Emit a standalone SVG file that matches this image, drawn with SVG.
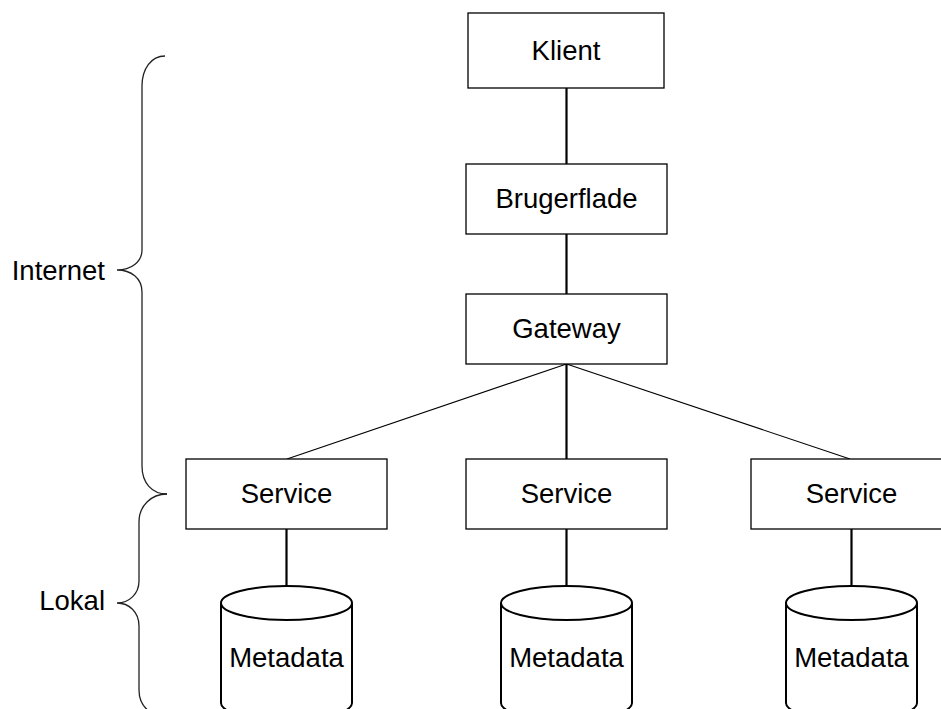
<svg xmlns="http://www.w3.org/2000/svg" width="941" height="709" viewBox="0 0 941 709">
  <style>
    .box { fill: #fff; stroke: #000; stroke-width: 1.3; }
    .db { fill: #fff; stroke: #000; stroke-width: 2; }
    .label { font-family: "Liberation Sans", Arial, sans-serif; font-size: 27.5px; fill: #000; text-anchor: middle; }
    .side { font-family: "Liberation Sans", Arial, sans-serif; font-size: 27.5px; fill: #000; text-anchor: end; }
    .thick { stroke: #000; stroke-width: 2.2; fill: none; }
    .thin { stroke: #000; stroke-width: 1.1; fill: none; }
    .brace { stroke: #222; stroke-width: 1.3; fill: none; }
  </style>
  <rect width="941" height="709" fill="#fff"/>

  <!-- connectors -->
  <g id="connectors">
    <line class="thick" x1="566.5" y1="88" x2="566.5" y2="164"/>
    <line class="thick" x1="566.5" y1="234" x2="566.5" y2="294"/>
    <line class="thick" x1="566.5" y1="364" x2="566.5" y2="459"/>
    <line class="thin" x1="566.5" y1="364" x2="287" y2="459"/>
    <line class="thin" x1="566.5" y1="364" x2="850" y2="459"/>
    <line class="thick" x1="286.5" y1="529" x2="286.5" y2="586"/>
    <line class="thick" x1="566.5" y1="529" x2="566.5" y2="586"/>
    <line class="thick" x1="851.5" y1="529" x2="851.5" y2="586"/>
  </g>

  <!-- nodes -->
  <g id="klient">
    <rect class="box" x="468" y="13" width="196" height="75"/>
    <text class="label" x="566" y="60">Klient</text>
  </g>
  <g id="brugerflade">
    <rect class="box" x="466" y="164" width="201" height="70"/>
    <text class="label" x="566.5" y="208">Brugerflade</text>
  </g>
  <g id="gateway">
    <rect class="box" x="466" y="294" width="201" height="70"/>
    <text class="label" x="566.5" y="338">Gateway</text>
  </g>
  <g id="service1">
    <rect class="box" x="186" y="459" width="201" height="70"/>
    <text class="label" x="286.5" y="503">Service</text>
  </g>
  <g id="service2">
    <rect class="box" x="466" y="459" width="201" height="70"/>
    <text class="label" x="566.5" y="503">Service</text>
  </g>
  <g id="service3">
    <rect class="box" x="751" y="459" width="201" height="70"/>
    <text class="label" x="851.5" y="503">Service</text>
  </g>

  <g id="metadata1">
    <path class="db" d="M221,603 L221,703 A65.5,17 0 0 0 352,703 L352,603 A65.5,17 0 0 0 221,603 Z"/>
    <path class="db" d="M221,603 A65.5,17 0 0 0 352,603"/>
    <text class="label" x="286.5" y="667">Metadata</text>
  </g>
  <g id="metadata2">
    <path class="db" d="M501,603 L501,703 A65.5,17 0 0 0 632,703 L632,603 A65.5,17 0 0 0 501,603 Z"/>
    <path class="db" d="M501,603 A65.5,17 0 0 0 632,603"/>
    <text class="label" x="566.5" y="667">Metadata</text>
  </g>
  <g id="metadata3">
    <path class="db" d="M786,603 L786,703 A65.5,17 0 0 0 917,703 L917,603 A65.5,17 0 0 0 786,603 Z"/>
    <path class="db" d="M786,603 A65.5,17 0 0 0 917,603"/>
    <text class="label" x="851.5" y="667">Metadata</text>
  </g>

  <!-- zone braces -->
  <g id="internet">
    <path class="brace" d="M165,56 C151,56 142,69 142,86 L142,250 C142,262 131,270 117,270 C131,270 142,278 142,292 L142,466 C142,483 152,494 167,494"/>
    <text class="side" x="105" y="280">Internet</text>
  </g>
  <g id="lokal">
    <path class="brace" d="M167,494 C151,494 139,506 139,522 L139,581 C139,594 129,603 117,603 C129,603 139,612 139,626 L139,690 C139,700 143,707 150,712"/>
    <text class="side" x="105" y="610">Lokal</text>
  </g>
</svg>
